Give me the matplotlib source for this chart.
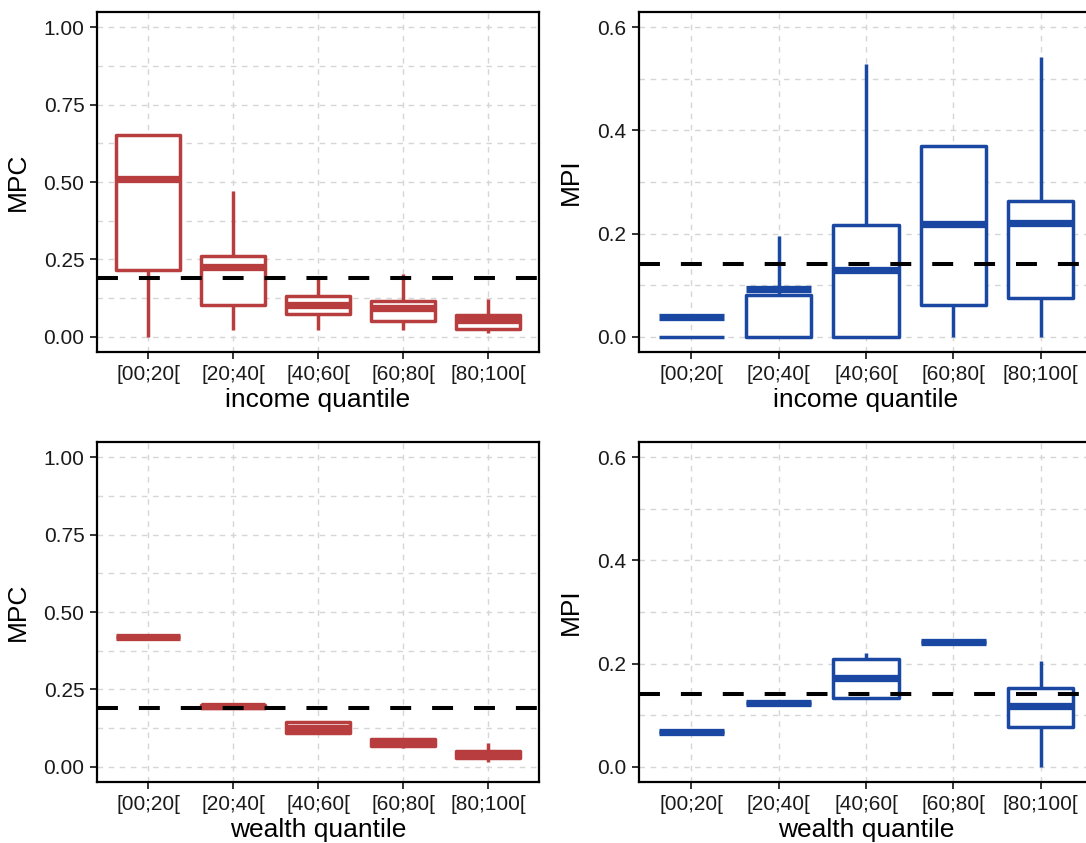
import numpy as np
import matplotlib
matplotlib.use("Agg")
import matplotlib.pyplot as plt
from matplotlib.ticker import MultipleLocator, FormatStrFormatter

plt.rcParams['font.family'] = ['Liberation Sans', 'DejaVu Sans']

# quantile groups
groups = ["[00;20[", "[20;40[", "[40;60[", "[60;80[", "[80;100["]

# box statistics per group: lower whisker, q1, centre line, q3, upper whisker
mpc_income_lo = [0.00, 0.020, 0.020, 0.020, 0.010]
mpc_income_q1 = [0.215, 0.103, 0.074, 0.049, 0.026]
mpc_income_md = [0.510, 0.226, 0.103, 0.092, 0.055]
mpc_income_q3 = [0.653, 0.260, 0.130, 0.116, 0.071]
mpc_income_hi = [0.653, 0.470, 0.192, 0.203, 0.122]

mpi_income_lo = [0.000, 0.000, 0.000, 0.000, 0.000]
mpi_income_q1 = [0.000, 0.000, 0.000, 0.061, 0.074]
mpi_income_md = [0.037, 0.092, 0.130, 0.218, 0.221]
mpi_income_q3 = [0.000, 0.080, 0.216, 0.370, 0.263]
mpi_income_hi = [0.000, 0.195, 0.529, 0.370, 0.542]

mpc_wealth_lo = [0.418, 0.191, 0.104, 0.060, 0.016]
mpc_wealth_q1 = [0.418, 0.191, 0.110, 0.068, 0.027]
mpc_wealth_md = [0.418, 0.197, 0.126, 0.078, 0.038]
mpc_wealth_q3 = [0.418, 0.200, 0.145, 0.088, 0.051]
mpc_wealth_hi = [0.418, 0.200, 0.145, 0.088, 0.077]

mpi_wealth_lo = [0.067, 0.124, 0.134, 0.242, 0.000]
mpi_wealth_q1 = [0.067, 0.124, 0.134, 0.242, 0.077]
mpi_wealth_md = [0.067, 0.124, 0.171, 0.242, 0.117]
mpi_wealth_q3 = [0.067, 0.124, 0.208, 0.242, 0.152]
mpi_wealth_hi = [0.067, 0.124, 0.221, 0.242, 0.204]

# aggregate reference levels
mpc_mean = 0.19
mpi_mean = 0.141

RED = "#B73D3E"
BLUE = "#1A47A1"


def make_stats(lo, q1, md, q3, hi):
    return [dict(whislo=a, q1=b, med=c, q3=d, whishi=e, fliers=[])
            for a, b, c, d, e in zip(lo, q1, md, q3, hi)]


def draw_panel(ax, stats, color, hline, ylim, major, minor, fmt, ylabel, xlabel):
    ax.set_xlim(0.4, 5.6)
    ax.set_ylim(*ylim)
    ax.yaxis.set_major_locator(MultipleLocator(major))
    ax.yaxis.set_minor_locator(MultipleLocator(minor))
    ax.yaxis.set_major_formatter(FormatStrFormatter(fmt))

    grid_kw = dict(color="#D6D6D6", linewidth=1.0, dashes=(4, 4))
    ax.grid(True, which="major", axis="both", **grid_kw)
    ax.grid(True, which="minor", axis="y", **grid_kw)
    ax.set_axisbelow(True)

    lw = 2.5
    ax.bxp(stats, positions=range(1, 6), widths=0.75, showcaps=False,
           showfliers=False, patch_artist=True,
           boxprops=dict(facecolor="white", edgecolor=color, linewidth=lw,
                         joinstyle="round"),
           whiskerprops=dict(color=color, linewidth=lw, solid_capstyle="butt"),
           medianprops=dict(color=color, linewidth=lw * 2.1, solid_capstyle="butt"),
           zorder=3)

    ax.axhline(hline, color="black", linewidth=2.9, dashes=(5.2, 5.2), zorder=5)

    ax.set_xticks(range(1, 6))
    ax.set_xticklabels(groups)
    ax.tick_params(axis="both", which="major", length=5, width=1.4,
                   color="#333333", labelsize=15, labelcolor="#1A1A1A", pad=4)
    ax.tick_params(axis="y", which="minor", length=0)
    ax.set_ylabel(ylabel, fontsize=19, labelpad=10)
    ax.set_xlabel(xlabel, fontsize=19, labelpad=3)
    for s in ax.spines.values():
        s.set_linewidth(1.6)
        s.set_color("black")


fig = plt.figure(figsize=(10.86, 8.43), dpi=100)
W, H = 1086, 843
ax_tl = fig.add_axes([97 / W, (H - 352) / H, 442 / W, 340 / H])
ax_tr = fig.add_axes([639 / W, (H - 352) / H, 454 / W, 340 / H])
ax_bl = fig.add_axes([97 / W, (H - 782) / H, 442 / W, 340 / H])
ax_br = fig.add_axes([639 / W, (H - 782) / H, 454 / W, 340 / H])

draw_panel(ax_tl, make_stats(mpc_income_lo, mpc_income_q1, mpc_income_md, mpc_income_q3, mpc_income_hi),
           RED, mpc_mean, (-0.05, 1.05), 0.25, 0.125, "%.2f", "MPC", "income quantile")
draw_panel(ax_tr, make_stats(mpi_income_lo, mpi_income_q1, mpi_income_md, mpi_income_q3, mpi_income_hi),
           BLUE, mpi_mean, (-0.03, 0.63), 0.2, 0.1, "%.1f", "MPI", "income quantile")
draw_panel(ax_bl, make_stats(mpc_wealth_lo, mpc_wealth_q1, mpc_wealth_md, mpc_wealth_q3, mpc_wealth_hi),
           RED, mpc_mean, (-0.05, 1.05), 0.25, 0.125, "%.2f", "MPC", "wealth quantile")
draw_panel(ax_br, make_stats(mpi_wealth_lo, mpi_wealth_q1, mpi_wealth_md, mpi_wealth_q3, mpi_wealth_hi),
           BLUE, mpi_mean, (-0.03, 0.63), 0.2, 0.1, "%.1f", "MPI", "wealth quantile")

fig.savefig("out.png", dpi=100)
